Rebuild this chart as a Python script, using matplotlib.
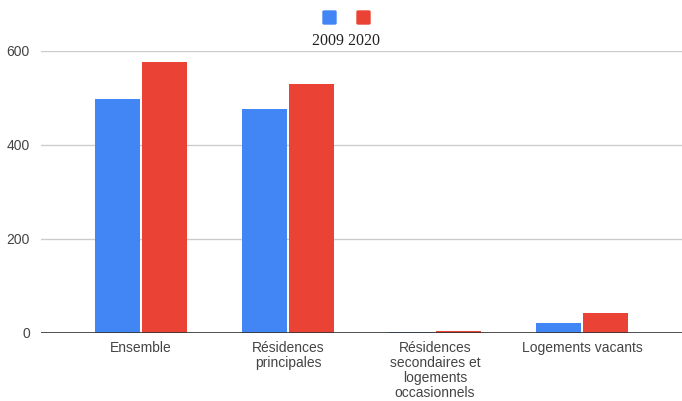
import matplotlib
matplotlib.use("Agg")
import matplotlib.pyplot as plt
import numpy as np

categories = ["Ensemble", "Résidences\nprincipales",
              "Résidences\nsecondaires et\nlogements\noccasionnels", "Logements vacants"]
series_names = ["2009", "2020"]
values_2009 = [498, 476, 1, 20]
values_2020 = [576, 529, 3, 42]
yticks = [0, 200, 400, 600]

colors = ["#4285F4", "#EA4335"]

plt.rcParams['font.family'] = ['Liberation Sans', 'DejaVu Sans']

fig = plt.figure(figsize=(6.82, 4.01), dpi=100)
ax = fig.add_axes([41/682, 1-332.5/401, 1-41/682, (332.5-50.7)/401])

x = np.arange(len(categories))
w = 0.306
off = 0.163
ax.bar(x - off, values_2009, width=w, color=colors[0], zorder=3)
ax.bar(x + off, values_2020, width=w, color=colors[1], zorder=3)

ax.set_xlim(-0.68, 3.68)
ax.set_ylim(0, 600)
ax.set_yticks(yticks)
ax.set_yticklabels([str(t) for t in yticks])
ax.set_xticks(x)
ax.set_xticklabels(categories, linespacing=1.1)
ax.tick_params(axis='both', length=0, labelsize=10, colors="#444444")
ax.tick_params(axis='y', pad=8)
ax.tick_params(axis='x', pad=6)
ax.grid(axis='y', color="#cccccc", linewidth=1, zorder=0)
ax.axhline(0, color="#333333", linewidth=1.2, zorder=4)
for s in ax.spines.values():
    s.set_visible(False)

# legend
from matplotlib.patches import FancyBboxPatch
for i, cx in enumerate([323, 357]):
    fig.patches.append(FancyBboxPatch((cx/682, 1-24/401), 13/682, 13/401,
                                      boxstyle="round,pad=0,rounding_size=0.002",
                                      transform=fig.transFigure, color=colors[i]))
fig.text(346/682, 1-41/401, " ".join(series_names), ha='center', va='center',
         fontsize=11.5, family=['Liberation Serif', 'DejaVu Serif'], color="#222222")

fig.savefig("out.png", dpi=100)
